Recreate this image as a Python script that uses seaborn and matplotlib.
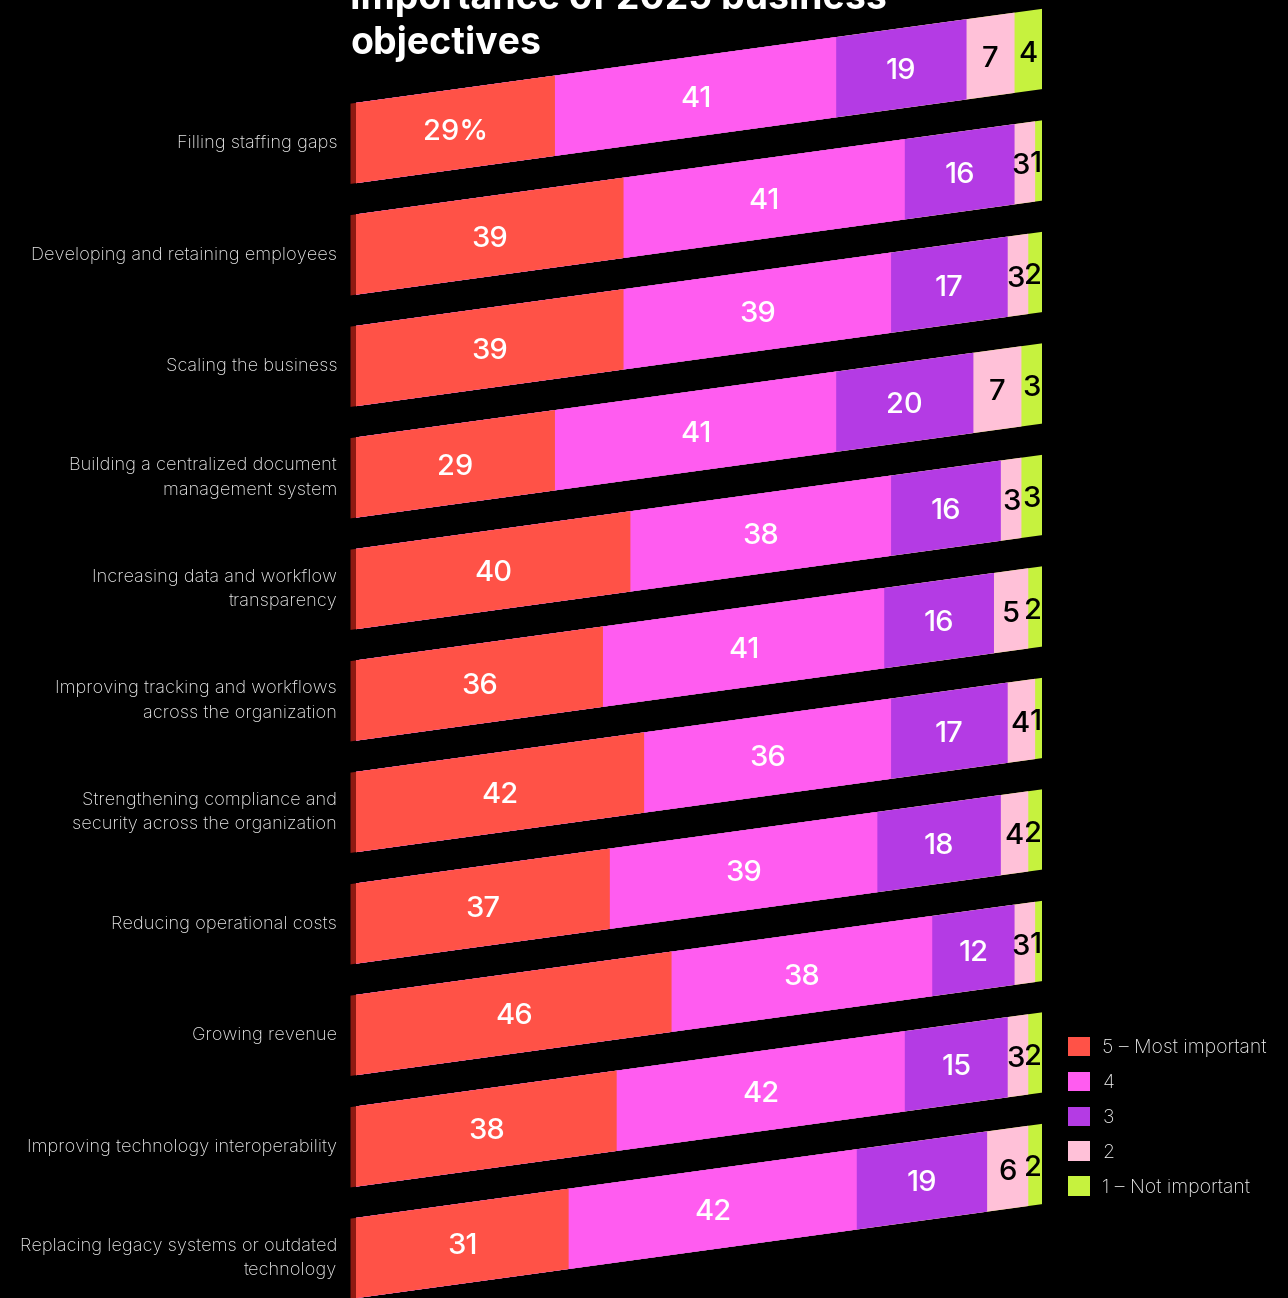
import numpy as np
import pandas as pd
import matplotlib
matplotlib.use("Agg")
import matplotlib.pyplot as plt
import matplotlib.transforms as mtransforms
from matplotlib.patches import Patch
import seaborn as sns

# ---- data -------------------------------------------------------------
categories = [
    "Filling staffing gaps",
    "Developing and retaining employees",
    "Scaling the business",
    "Building a centralized document\nmanagement system",
    "Increasing data and workflow\ntransparency",
    "Improving tracking and workflows\nacross the organization",
    "Strengthening compliance and\nsecurity across the organization",
    "Reducing operational costs",
    "Growing revenue",
    "Improving technology interoperability",
    "Replacing legacy systems or outdated\ntechnology",
]
level_names = ["5 – Most important", "4", "3", "2", "1 – Not important"]
most_important = [29, 39, 39, 29, 40, 36, 42, 37, 46, 38, 31]
important      = [41, 41, 39, 41, 38, 41, 36, 39, 38, 42, 42]
neutral        = [19, 16, 17, 20, 16, 16, 17, 18, 12, 15, 19]
less_important = [7, 3, 3, 7, 3, 5, 4, 4, 3, 3, 6]
not_important  = [4, 1, 2, 3, 3, 2, 1, 2, 1, 2, 2]
title_lines = ["Importance of 2025 business", "objectives"]

# ---- style ------------------------------------------------------------
level_colors = ["#FF5247", "#FF5CF0", "#B43BE4", "#FFC1D8", "#C6F23E"]
label_colors = ["white", "white", "white", "black", "black"]
side_color = "#8E1A12"
text_grey = "#EDEDED"
W, H, DPI = 1288, 1298, 100

sns.set_theme(style="dark")
plt.rcParams["font.family"] = ["Inter", "DejaVu Sans"]

levels = [most_important, important, neutral, less_important, not_important]
n = len(categories)

rows = []
for li, (name, vals) in enumerate(zip(level_names, levels)):
    for ci, cat in enumerate(categories):
        rows.append({"category": cat, "level": name, "level_idx": li, "value": vals[ci]})
df = pd.DataFrame(rows)
df["start"] = df.groupby("category", sort=False)["value"].cumsum() - df["value"]
df["end"] = df["start"] + df["value"]

fig = plt.figure(figsize=(W / DPI, H / DPI), dpi=DPI, facecolor="black")
x0_px, x1_px = 356, 1042
ax = fig.add_axes([x0_px / W, 0, (x1_px - x0_px) / W, 1])
ax.set_facecolor("none")

# stacked bars: draw cumulative ends from the outermost level inwards
bar_width = 0.72
for li in reversed(range(len(level_names))):
    sub = df[df["level_idx"] == li]
    sns.barplot(data=sub, x="end", y="category", order=categories, orient="h",
                color=level_colors[li], saturation=1, width=bar_width,
                linewidth=0, ax=ax, zorder=2)

# thin dark side face on the left of each bar
ax.barh(np.arange(n), 0.9, left=-0.8, height=bar_width, color=side_color,
        linewidth=0, zorder=1)

# vertical geometry: bar pitch and rise across the full bar length
pitch_px = 111.5
first_center_px = 143
rise_px = 94
k = rise_px / pitch_px / 100.0
ax.set_xlim(0, 100)
ax.set_ylim((H - first_center_px) / pitch_px, -first_center_px / pitch_px)
ax.axis("off")

shear = mtransforms.Affine2D.from_values(1, -k, 0, 1, 0, 0)
slanted = shear + ax.transData
for p in ax.patches:
    p.set_transform(slanted)
    p.set_clip_on(False)

# value labels inside segments
fig.canvas.draw()
renderer = fig.canvas.get_renderer()
px_per_unit = (x1_px - x0_px) / 100.0
for ci in range(n):
    texts = []
    for li in range(len(level_names)):
        r = df[(df["category"] == categories[ci]) & (df["level_idx"] == li)].iloc[0]
        s = f"{r['value']}%" if (ci == 0 and li == 0) else f"{r['value']}"
        xc = r["start"] + r["value"] / 2
        t = ax.text(xc, ci + 0.03, s, transform=slanted, ha="center", va="center",
                    color=label_colors[li], fontsize=21, fontweight="medium",
                    zorder=5, clip_on=False)
        texts.append([t, xc])
    # keep the two narrow right-hand labels inside the bar and apart
    right_limit = 100.0
    for t, xc in reversed(texts[-2:]):
        w = t.get_window_extent(renderer).width / px_per_unit
        if xc + w / 2 > right_limit:
            xc = right_limit - w / 2
            t.set_x(xc)
        right_limit = xc - w / 2

# category labels
for ci, cat in enumerate(categories):
    ax.text(-2.75, ci + 0.005, cat, ha="right", va="center", color=text_grey,
            fontsize=13.1, fontweight="light", linespacing=1.55)

# title
fig.text(350 / W, 1 - 9 / H, title_lines[0], color="white", fontsize=27,
         fontweight="bold", ha="left", va="baseline")
fig.text(350 / W, 1 - 54 / H, title_lines[1], color="white", fontsize=27,
         fontweight="bold", ha="left", va="baseline")

# legend
handles = [Patch(facecolor=c, edgecolor="none") for c in level_colors]
fig.legend(handles, level_names, loc="upper left",
           bbox_to_anchor=(1068 / W, 1 - 1037 / H), frameon=False,
           labelcolor=text_grey, handlelength=1.15,
           handleheight=1.15, handletextpad=0.62, labelspacing=0.75,
           borderpad=0, borderaxespad=0, prop={"weight": "light", "size": 14})

fig.savefig("out.png", dpi=DPI, facecolor="black")
